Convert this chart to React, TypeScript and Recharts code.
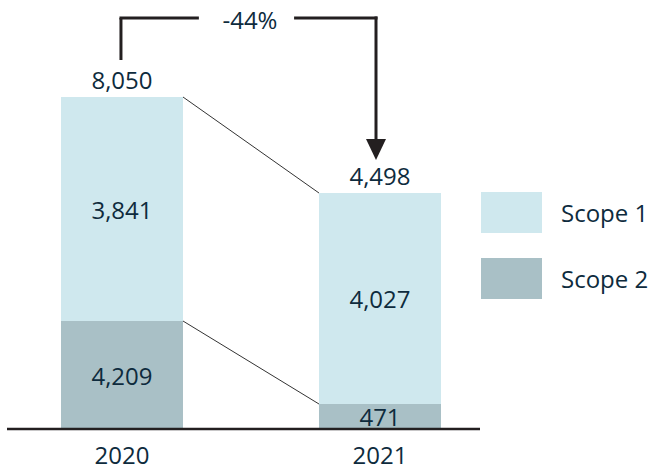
import { BarChart, Bar, XAxis, YAxis, LabelList, ReferenceLine, ReferenceDot, Legend } from 'recharts'

// 表示値（ラベル）
const years = [2020, 2021]
const scope1Values = [3841, 4027]
const scope2Values = [4209, 471]
const totalValues = [8050, 4498]
const changeLabel = '-44%'

// 描画上の棒の高さ（元図は等倍ではないので図から読み取り）
const scope1Heights = [224, 211]
const scope2Heights = [108, 25]

const data = years.map((year, i) => ({
  year,
  scope1: scope1Heights[i],
  scope2: scope2Heights[i],
  scope1Label: scope1Values[i],
  scope2Label: scope2Values[i],
  total: totalValues[i],
}))

const TEXT = '#0e2b3d'
const DARK = '#231f20'
const SCOPE1 = '#cfe8ee'
const SCOPE2 = '#a9c0c6'
const FONT = '"Open Sans", "Noto Sans", sans-serif'

const X_DOMAIN: [number, number] = [2019.5543, 2021.3876]
const PLOT_W = 473
const BAR_PX = 122
const unitPx = PLOT_W / (X_DOMAIN[1] - X_DOMAIN[0])
const halfBar = BAR_PX / 2 / unitPx

const fmt = (v: number) => v.toLocaleString('en-US')

const tops = data.map(d => d.scope1 + d.scope2)

function InnerLabel(props: any) {
  const { x, y, width, height, value } = props
  return (
    <text x={x + width / 2} y={y + height / 2} textAnchor="middle" dominantBaseline="central"
      fontSize={24} fill={TEXT} fontFamily={FONT}>
      {fmt(value)}
    </text>
  )
}

function TotalLabel(props: any) {
  const { x, y, width, value } = props
  return (
    <text x={x + width / 2} y={y - 18} textAnchor="middle" dominantBaseline="central"
      fontSize={24} fill={TEXT} fontFamily={FONT}>
      {fmt(value)}
    </text>
  )
}

function YearTick(props: any) {
  const { x, y, payload } = props
  return (
    <text x={x} y={y + 17} textAnchor="middle" dominantBaseline="central"
      fontSize={24} fill={TEXT} fontFamily={FONT}>
      {payload.value}
    </text>
  )
}

function ArrowLine(props: any) {
  const { x1, y1, x2, y2 } = props
  const head = 21
  return (
    <g>
      <line x1={x1} y1={y1} x2={x2} y2={y2 - head + 2} stroke={DARK} strokeWidth={3} />
      <polygon points={`${x2 - 10},${y2 - head} ${x2 + 10},${y2 - head} ${x2},${y2}`} fill={DARK} />
    </g>
  )
}

function LegendContent() {
  const items = [
    { name: 'Scope 1', color: SCOPE1 },
    { name: 'Scope 2', color: SCOPE2 },
  ]
  return (
    <div style={{ fontFamily: FONT }}>
      {items.map(it => (
        <div key={it.name} style={{ display: 'flex', alignItems: 'center', height: 41, marginBottom: 25 }}>
          <div style={{ width: 61, height: 41, background: it.color }} />
          <span style={{ marginLeft: 19, fontSize: 24, color: TEXT }}>{it.name}</span>
        </div>
      ))}
    </div>
  )
}

export default function App() {
  const bracketTop = 411
  return (
    <div style={{ position: 'absolute', left: 0, top: 0, background: '#fff' }}>
      <BarChart width={650} height={469} data={data}
        margin={{ top: 10, right: 170, bottom: 0, left: 7 }}>
        <XAxis dataKey="year" type="number" domain={X_DOMAIN} ticks={years}
          tickLine={false} height={40} tick={<YearTick />}
          axisLine={{ stroke: DARK, strokeWidth: 2.5 }} allowDataOverflow />
        <YAxis hide type="number" domain={[0, 419]} allowDataOverflow />
        <Legend layout="vertical" align="center" verticalAlign="middle"
          wrapperStyle={{ left: 481, top: 192, width: 170, height: 120 }}
          content={<LegendContent />} />

        {/* 連結線 */}
        <ReferenceLine segment={[{ x: years[0] + halfBar, y: tops[0] }, { x: years[1] - halfBar, y: tops[1] }]}
          stroke="#333" strokeWidth={1} ifOverflow="visible" />
        <ReferenceLine segment={[{ x: years[0] + halfBar, y: data[0].scope2 }, { x: years[1] - halfBar, y: data[1].scope2 }]}
          stroke="#333" strokeWidth={1} ifOverflow="visible" />

        <Bar dataKey="scope2" stackId="a" fill={SCOPE2} barSize={BAR_PX} isAnimationActive={false}>
          <LabelList dataKey="scope2Label" content={<InnerLabel />} />
        </Bar>
        <Bar dataKey="scope1" stackId="a" fill={SCOPE1} barSize={BAR_PX} isAnimationActive={false}>
          <LabelList dataKey="scope1Label" content={<InnerLabel />} />
          <LabelList dataKey="total" content={<TotalLabel />} />
        </Bar>

        {/* 増減ブラケット */}
        <ReferenceLine segment={[{ x: years[0] - 0.004, y: tops[0] + 37 }, { x: years[0] - 0.004, y: bracketTop }]}
          stroke={DARK} strokeWidth={3} ifOverflow="visible" />
        <ReferenceLine segment={[{ x: years[0] - 0.0098, y: bracketTop }, { x: 2020.298, y: bracketTop }]}
          stroke={DARK} strokeWidth={3} ifOverflow="visible" />
        <ReferenceLine segment={[{ x: 2020.667, y: bracketTop }, { x: years[1] - 0.0096, y: bracketTop }]}
          stroke={DARK} strokeWidth={3} ifOverflow="visible" />
        <ReferenceLine segment={[{ x: years[1] - 0.0155, y: bracketTop + 1.5 }, { x: years[1] - 0.0155, y: tops[1] + 33 }]}
          ifOverflow="visible" shape={<ArrowLine />} />
        <ReferenceDot x={2020.496} y={bracketTop - 2} r={0} ifOverflow="visible"
          label={{ value: changeLabel, position: 'center', fontSize: 24, fill: TEXT, fontFamily: FONT }} />
      </BarChart>
    </div>
  )
}
